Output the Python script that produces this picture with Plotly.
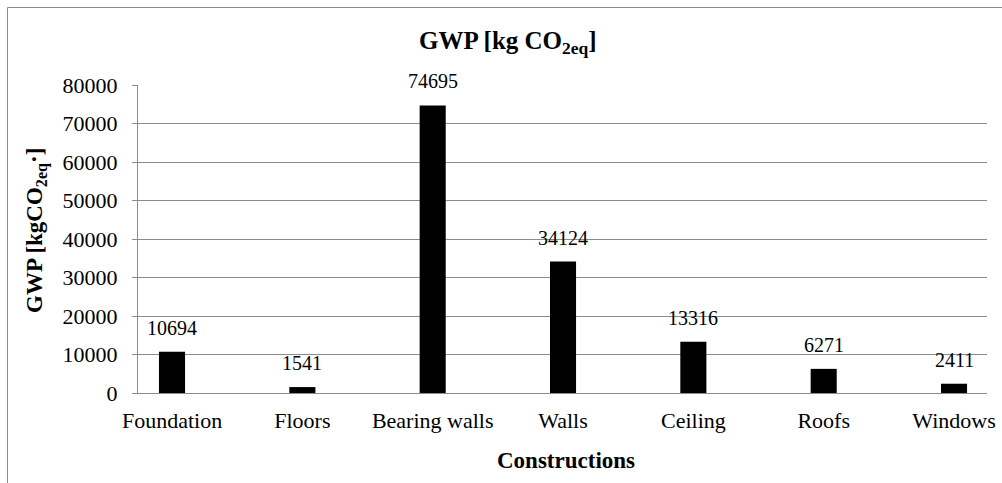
import plotly.graph_objects as go

categories = ["Foundation", "Floors", "Bearing walls", "Walls", "Ceiling", "Roofs", "Windows"]
values = [10694, 1541, 74695, 34124, 13316, 6271, 2411]
y_ticks = [0, 10000, 20000, 30000, 40000, 50000, 60000, 70000, 80000]

FONT = "Liberation Serif"
GRAY = "#8c8c8c"

W, H = 1002, 483
L, T, R, B = 138, 85, 15, 90

fig = go.Figure()
fig.add_trace(go.Bar(x=categories, y=values, marker=dict(color="black", line=dict(width=0)),
                     hoverinfo="skip"))

pw = W - L - R
ph = H - T - B

def px(x):
    return (x - L) / pw

def py(y):
    return (H - B - y) / ph

annotations = []
for c, v in zip(categories, values):
    annotations.append(dict(x=c, y=v, xref="x", yref="y", text=str(v), showarrow=False,
                            yanchor="bottom", yshift=11, font=dict(family=FONT, size=20, color="black")))

annotations.append(dict(x=px(508), y=py(43), xref="paper", yref="paper",
                        text="<b>GWP [kg CO<sub>2eq</sub>]</b>", showarrow=False,
                        xanchor="center", yanchor="middle",
                        font=dict(family=FONT, size=25, color="black")))
annotations.append(dict(x=px(566), y=py(460), xref="paper", yref="paper",
                        text="<b>Constructions</b>", showarrow=False,
                        xanchor="center", yanchor="middle",
                        font=dict(family=FONT, size=23, color="black")))
annotations.append(dict(x=px(36), y=py(231), xref="paper", yref="paper",
                        text="<b>GWP [kgCO<sub>2eq</sub>·]</b>", showarrow=False, textangle=-90,
                        xanchor="center", yanchor="middle",
                        font=dict(family=FONT, size=23, color="black")))

fig.update_layout(
    width=W, height=H,
    margin=dict(l=L, r=R, t=T, b=B, autoexpand=False),
    paper_bgcolor="white", plot_bgcolor="white",
    bargap=0.8,
    showlegend=False,
    annotations=annotations,
    shapes=[dict(type="rect", xref="paper", yref="paper",
                 x0=px(7.5), x1=1.2, y0=-0.5, y1=py(7.5),
                 line=dict(color=GRAY, width=1), fillcolor="rgba(0,0,0,0)", layer="below")],
    font=dict(family=FONT, color="black"),
)
fig.update_xaxes(type="category", range=[-0.261, 6.253],
                 showline=True, linecolor=GRAY, linewidth=1, ticks="", showgrid=False,
                 tickfont=dict(family=FONT, size=22, color="black"), ticklabelstandoff=8)
fig.update_yaxes(range=[0, 80000], tickvals=y_ticks, ticktext=[str(t) for t in y_ticks],
                 showline=True, linecolor=GRAY, linewidth=1,
                 showgrid=True, gridcolor=GRAY, gridwidth=1, zeroline=False,
                 ticks="outside", ticklen=5, tickcolor=GRAY,
                 tickfont=dict(family=FONT, size=22, color="black"), ticklabelstandoff=10)

fig.write_html("out.html", config={"displayModeBar": False},
               post_script="document.body.style.margin='0';document.body.style.overflow='hidden';")
